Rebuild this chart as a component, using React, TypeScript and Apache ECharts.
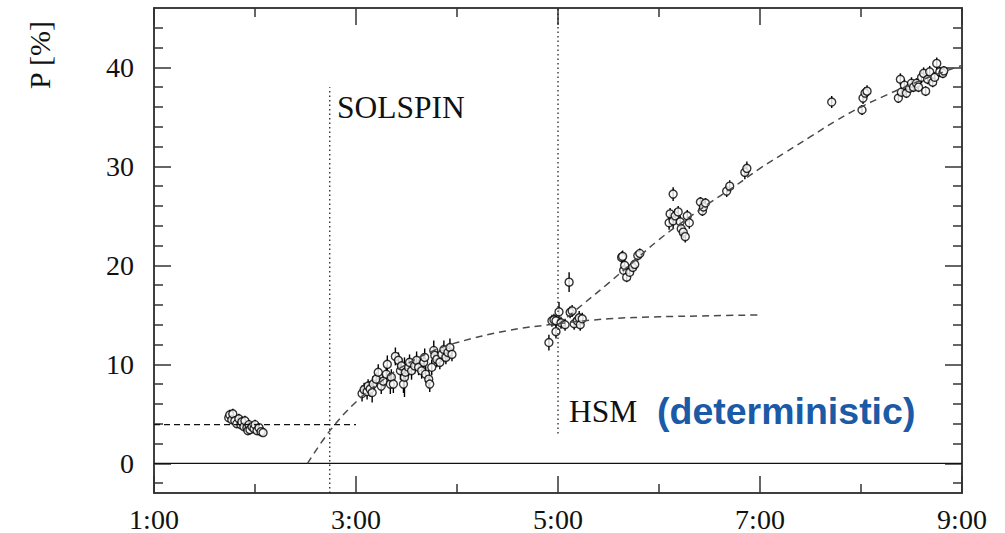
import React, { useEffect, useRef } from "react";
import * as echarts from "echarts";

// Measured polarisation points: time of day (hours), P [%], error (half length of bar)
const pointTimes = [
  // before SOLSPIN
  1.74, 1.75, 1.77, 1.78, 1.8, 1.82, 1.84, 1.86, 1.87, 1.89, 1.9, 1.92, 1.93, 1.94, 1.95, 1.97, 1.99, 2.0, 2.02, 2.04, 2.06, 2.08,
  // 3:00 – 4:00
  3.06, 3.08, 3.11, 3.12, 3.14, 3.16, 3.17, 3.2, 3.22, 3.25, 3.27, 3.3, 3.31, 3.34, 3.35, 3.37, 3.39, 3.42, 3.44, 3.45, 3.47,
  3.48, 3.49, 3.52, 3.53, 3.55, 3.58, 3.6, 3.62, 3.65, 3.67, 3.68, 3.69, 3.72, 3.73, 3.75, 3.77, 3.78, 3.8, 3.83, 3.85, 3.87,
  3.89, 3.91, 3.93, 3.95,
  // around 5:00
  4.91, 4.94, 4.96, 4.98, 4.98, 5.01, 5.03, 5.07, 5.11, 5.12, 5.14, 5.16, 5.19, 5.21, 5.22, 5.24,
  // 5:35 – 7:00
  5.63, 5.64, 5.65, 5.66, 5.68, 5.71, 5.74, 5.76, 5.79, 5.81,
  6.1, 6.11, 6.14, 6.14, 6.16, 6.19, 6.21, 6.22, 6.24, 6.26, 6.28, 6.3,
  6.41, 6.43, 6.44, 6.46, 6.67, 6.7, 6.85, 6.87,
  // 7:40 – 8:50
  7.71, 8.01, 8.02, 8.04, 8.06,
  8.37, 8.39, 8.4, 8.43, 8.45, 8.48, 8.5, 8.52, 8.55, 8.57, 8.6, 8.62, 8.64, 8.66, 8.68, 8.71, 8.73, 8.75, 8.78, 8.81, 8.82,
];

const pointValues = [
  4.6, 4.9, 4.4, 5.0, 4.3, 4.0, 4.5, 3.9, 4.2, 3.7, 4.3, 3.6, 3.3, 3.9, 3.4, 3.7, 3.5, 3.9, 3.3, 3.6, 3.2, 3.1,
  7.05, 7.45, 7.25, 7.8, 7.5, 7.15, 8.0, 8.5, 9.2, 7.8, 8.3, 9.0, 10.0, 8.0, 8.7, 8.0, 10.8, 10.4, 9.35, 9.85, 8.0,
  8.7, 9.2, 9.7, 10.2, 9.35, 9.85, 10.4, 9.7, 9.35, 10.2, 10.7, 9.0, 8.5, 8.0, 9.7, 11.4, 10.9, 10.5, 10.2, 11.0, 11.5,
  10.7, 11.2, 11.7, 11.0,
  12.2, 14.4, 14.5, 14.4, 13.3, 15.3, 14.2, 14.0, 18.3, 15.25, 15.4, 14.1, 14.4, 14.7, 14.0, 14.6,
  20.8, 20.9, 19.5, 20.0, 18.8, 19.3, 19.8, 20.1, 21.0, 21.2,
  24.3, 25.2, 27.2, 24.5, 25.0, 25.4, 24.4, 23.7, 23.35, 22.9, 25.0, 24.3,
  26.4, 25.5, 25.9, 26.3, 27.5, 28.0, 29.4, 29.8,
  36.5, 35.7, 36.9, 37.4, 37.6,
  36.9, 38.8, 37.5, 38.2, 37.4, 37.9, 38.4, 38.0, 38.4, 38.0, 39.0, 39.4, 37.6, 38.8, 39.55, 38.5, 39.0, 40.4, 39.55, 39.4, 39.65,
];

const pointErrors = [
  0.4, 0.5, 0.4, 0.5, 0.4, 0.4, 0.5, 0.4, 0.5, 0.4, 0.5, 0.4, 0.4, 0.5, 0.4, 0.4, 0.4, 0.5, 0.4, 0.4, 0.4, 0.3,
  0.8, 0.7, 0.8, 0.7, 0.8, 1.0, 0.8, 0.7, 0.8, 0.8, 0.7, 0.9, 0.9, 1.0, 0.8, 0.9, 0.9, 0.8, 0.9, 0.8, 0.9,
  2.0, 0.8, 0.9, 0.8, 0.9, 0.8, 0.9, 0.8, 0.8, 0.9, 0.9, 0.8, 0.9, 0.8, 0.8, 1.0, 0.8, 0.8, 0.7, 0.8, 0.9,
  0.7, 0.8, 0.9, 0.7,
  0.8, 0.6, 0.6, 0.6, 0.7, 1.0, 0.6, 0.6, 1.0, 0.6, 0.6, 0.6, 0.6, 0.7, 0.6, 0.6,
  0.6, 0.6, 0.5, 0.6, 0.5, 0.5, 0.6, 0.5, 0.5, 0.5,
  0.7, 0.6, 0.7, 0.8, 0.7, 0.6, 0.6, 0.6, 0.6, 0.6, 0.6, 0.6,
  0.5, 0.5, 0.6, 0.5, 0.6, 0.6, 0.7, 0.7,
  0.6, 0.5, 0.6, 0.6, 0.6,
  0.5, 0.6, 0.5, 0.6, 0.5, 0.5, 0.6, 0.5, 0.5, 0.5, 0.6, 0.6, 0.5, 0.5, 0.6, 0.5, 0.5, 0.6, 0.5, 0.5, 0.5,
];

// HSM fit curve (saturating build-up)
const hsmTimes = [2.52, 2.75, 3.0, 3.25, 3.5, 3.75, 4.0, 4.5, 5.0, 5.5, 6.0, 6.5, 7.0];
const hsmValues = [0.0, 3.4, 6.2, 8.3, 10.0, 11.3, 12.2, 13.4, 14.1, 14.6, 14.8, 14.9, 15.0];

// Fit curve after 5:00
const lateTimes = [5.0, 5.25, 5.5, 5.75, 6.0, 6.25, 6.5, 6.75, 7.0, 7.25, 7.5, 7.75, 8.0, 8.25, 8.5, 8.75, 9.0];
const lateValues = [14.0, 16.1, 18.2, 20.4, 22.6, 24.5, 26.3, 28.0, 29.8, 31.4, 33.0, 34.6, 36.0, 37.2, 38.3, 39.3, 40.2];

// Initial polarisation level
const baseTimes = [1, 3];
const baseValues = [3.9, 3.9];

// Vertical markers
const solspinTime = 2.74;
const solspinRange = [-3, 38];
const hsmTime = 5.0;
const hsmRange = [3.0, 46];

// Axis ticks
const xMajorTicks = [1, 3, 5, 7, 9];
const xMinorTicks = [2, 4, 6, 8];
const yMajorTicks = [0, 10, 20, 30, 40];
const yMinorTicks = [-2, 2, 4, 6, 8, 12, 14, 16, 18, 22, 24, 26, 28, 32, 34, 36, 38, 42, 44];

const X_MIN = 1;
const X_MAX = 9;
const Y_MIN = -3;
const Y_MAX = 46;

const SERIF = "'Liberation Serif', 'Times New Roman', serif";
const FRAME = "#333";

function xAxisDef(position: "top" | "bottom", ticks: number[], len: number, labels: boolean) {
  return {
    type: "value",
    position,
    min: X_MIN,
    max: X_MAX,
    axisLine: { show: true, onZero: false, lineStyle: { color: FRAME, width: 1.5 } },
    axisTick: { show: true, inside: true, length: len, customValues: ticks, lineStyle: { color: FRAME, width: 1.5 } },
    axisLabel: labels
      ? {
          show: true,
          customValues: xMajorTicks,
          margin: 12,
          fontFamily: SERIF,
          fontSize: 28,
          color: "#111",
          formatter: (v: number) => `${v}:00`,
        }
      : { show: false },
    splitLine: { show: false },
  };
}

function yAxisDef(position: "left" | "right", ticks: number[], len: number, labels: boolean) {
  return {
    type: "value",
    position,
    min: Y_MIN,
    max: Y_MAX,
    axisLine: { show: true, onZero: false, lineStyle: { color: FRAME, width: 1.5 } },
    axisTick: { show: true, inside: true, length: len, customValues: ticks, lineStyle: { color: FRAME, width: 1.5 } },
    axisLabel: labels
      ? {
          show: true,
          customValues: yMajorTicks,
          margin: 20,
          fontFamily: SERIF,
          fontSize: 28,
          color: "#111",
        }
      : { show: false },
    splitLine: { show: false },
  };
}

export default function App() {
  const ref = useRef<HTMLDivElement>(null);

  useEffect(() => {
    if (!ref.current) return;
    const chart = echarts.init(ref.current, undefined, { renderer: "svg" });

    const points = pointTimes.map((t, i) => [t, pointValues[i], pointErrors[i]]);
    const pair = (ts: number[], vs: number[]) => ts.map((t, i) => [t, vs[i]]);

    chart.setOption({
      animation: false,
      backgroundColor: "#fff",
      grid: { left: 154, right: 43, top: 8, bottom: 40, containLabel: false },
      xAxis: [
        xAxisDef("bottom", xMajorTicks, 17, true),
        xAxisDef("bottom", xMinorTicks, 9, false),
        xAxisDef("top", xMajorTicks, 17, false),
        xAxisDef("top", xMinorTicks, 9, false),
      ],
      yAxis: [
        yAxisDef("left", yMajorTicks, 17, true),
        yAxisDef("left", yMinorTicks, 9, false),
        yAxisDef("right", yMajorTicks, 17, false),
        yAxisDef("right", yMinorTicks, 9, false),
      ],
      graphic: [
        {
          type: "text",
          x: 39,
          y: 55,
          rotation: Math.PI / 2,
          style: {
            text: "P [%]",
            fontFamily: SERIF,
            fontSize: 30,
            fill: "#111",
            textAlign: "center",
            textVerticalAlign: "middle",
          },
        },
        {
          type: "text",
          x: 337,
          y: 107,
          style: { text: "SOLSPIN", fontFamily: SERIF, fontSize: 31.5, fill: "#111", textVerticalAlign: "middle" },
        },
        {
          type: "text",
          x: 569,
          y: 411,
          style: { text: "HSM", fontFamily: SERIF, fontSize: 31.5, fill: "#111", textVerticalAlign: "middle" },
        },
        {
          type: "text",
          x: 657,
          y: 411,
          style: {
            text: "(deterministic)",
            fontFamily: "'Liberation Sans', Arial, sans-serif",
            fontWeight: "bold",
            fontSize: 37.5,
            fill: "#1a5aa6",
            textVerticalAlign: "middle",
          },
        },
      ],
      series: [
        {
          type: "line",
          data: [
            [X_MIN, 0],
            [X_MAX, 0],
          ],
          symbol: "none",
          lineStyle: { color: "#111", width: 1.2, type: "solid" },
          silent: true,
        },
        {
          type: "line",
          data: pair(baseTimes, baseValues),
          symbol: "none",
          lineStyle: { color: "#111", width: 1.3, type: [6, 4] },
          silent: true,
        },
        {
          type: "line",
          data: [
            [solspinTime, solspinRange[0]],
            [solspinTime, solspinRange[1]],
          ],
          symbol: "none",
          lineStyle: { color: "#222", width: 1.3, type: [1.5, 3] },
          silent: true,
        },
        {
          type: "line",
          data: [
            [hsmTime, hsmRange[0]],
            [hsmTime, hsmRange[1]],
          ],
          symbol: "none",
          lineStyle: { color: "#222", width: 1.3, type: [1.5, 3] },
          silent: true,
        },
        {
          type: "line",
          data: pair(hsmTimes, hsmValues),
          smooth: 0.4,
          symbol: "none",
          lineStyle: { color: "#4a4a4a", width: 1.5, type: [7, 5] },
          silent: true,
        },
        {
          type: "line",
          data: pair(lateTimes, lateValues),
          smooth: 0.4,
          symbol: "none",
          lineStyle: { color: "#4a4a4a", width: 1.5, type: [7, 5] },
          silent: true,
        },
        {
          type: "custom",
          data: points,
          encode: { x: 0, y: 1 },
          silent: true,
          renderItem: (_params: any, api: any) => {
            const x = api.value(0);
            const y = api.value(1);
            const e = api.value(2);
            const top = api.coord([x, y + e]);
            const bot = api.coord([x, y - e]);
            return {
              type: "line",
              shape: { x1: top[0], y1: top[1], x2: bot[0], y2: bot[1] },
              style: { stroke: "#000", lineWidth: 1.4 },
            };
          },
        },
        {
          type: "scatter",
          data: points.map((p) => [p[0], p[1]]),
          symbol: "circle",
          symbolSize: 8,
          itemStyle: { color: "#fff", borderColor: "#000", borderWidth: 1.4 },
          silent: true,
        },
      ],
    });

    return () => chart.dispose();
  }, []);

  return (
    <div
      ref={ref}
      style={{ position: "fixed", left: 0, top: 0, width: 1005, height: 533, background: "#fff" }}
    />
  );
}
